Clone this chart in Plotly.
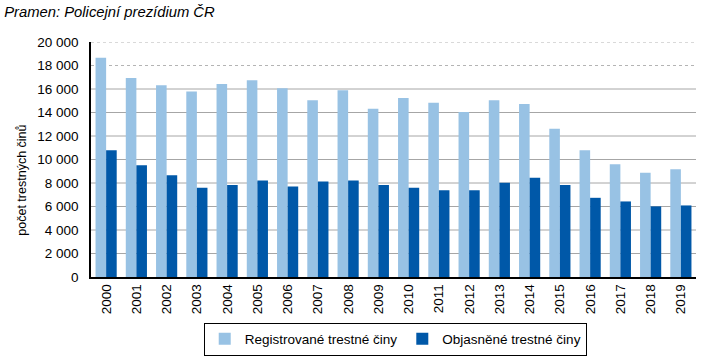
import plotly.graph_objects as go

years = [str(y) for y in range(2000, 2020)]
registrovane = [18650, 16940, 16320, 15780, 16430, 16740, 16060, 15040, 15890, 14310,
                15240, 14820, 14050, 15040, 14730, 12610, 10790, 9600, 8870, 9180]
objasnene = [10790, 9520, 8670, 7590, 7820, 8220, 7710, 8130, 8220, 7820,
             7590, 7390, 7390, 8020, 8440, 7820, 6740, 6430, 6010, 6090]
solid_grid = [2000, 4000, 6000, 8000, 10000, 12000, 14000, 16000]
dotted_grid = [18000, 20000]
y_ticks = [0, 2000, 4000, 6000, 8000, 10000, 12000, 14000, 16000, 18000, 20000]

FONT = "Liberation Sans, Arial, sans-serif"
LIGHT = "#98C2E4"
DARK = "#0058A8"

fig = go.Figure()
fig.add_trace(go.Bar(x=years, y=registrovane, name="Registrované trestné činy",
                     marker=dict(color=LIGHT, line=dict(width=0))))
fig.add_trace(go.Bar(x=years, y=objasnene, name="Objasněné trestné činy",
                     marker=dict(color=DARK, line=dict(width=0))))

for v in solid_grid:
    fig.add_hline(y=v, line=dict(color="#A6A6A6", width=1), layer="below")
for v in dotted_grid:
    fig.add_hline(y=v, line=dict(color="#B4B4B4", width=1, dash="dot"), layer="below")

fig.add_annotation(text="počet trestných činů", textangle=-90, showarrow=False,
                   xref="paper", yref="paper", x=-0.114, xanchor="center",
                   y=0.41, yanchor="middle", font=dict(family=FONT, size=12.5, color="black"))

fig.update_layout(
    width=702, height=358,
    margin=dict(l=91, r=6, t=42, b=81, autoexpand=False),
    paper_bgcolor="white", plot_bgcolor="white",
    barmode="group", bargap=0.3, bargroupgap=0,
    separators=", ",
    font=dict(family=FONT, size=13, color="black"),
    title=dict(text="Pramen: Policejní prezídium ČR", xref="container", yref="container",
               x=0.006, xanchor="left", y=0.966, yanchor="middle",
               font=dict(family=FONT, size=14.8, style="italic", color="black")),
    xaxis=dict(type="category", showline=True, linecolor="black", linewidth=1.5,
               tickangle=-90, tickfont=dict(size=13.5), ticks="", showgrid=False,
               automargin=False),
    yaxis=dict(range=[0, 20000], tickvals=y_ticks, tickformat=",d",
               showgrid=False, showline=True, linecolor="black", linewidth=1.5,
               ticks="outside", ticklen=8, tickcolor="white", tickfont=dict(size=13.5),
               zeroline=False, automargin=False),
    legend=dict(orientation="h", xref="container", yref="container",
                x=0.563, xanchor="center", y=0.099, yanchor="top",
                bordercolor="black", borderwidth=1, font=dict(size=13.5),
                traceorder="normal"),
)
fig.write_html("out.html", config={"displayModeBar": False},
               post_script="document.body.style.margin='0';")
